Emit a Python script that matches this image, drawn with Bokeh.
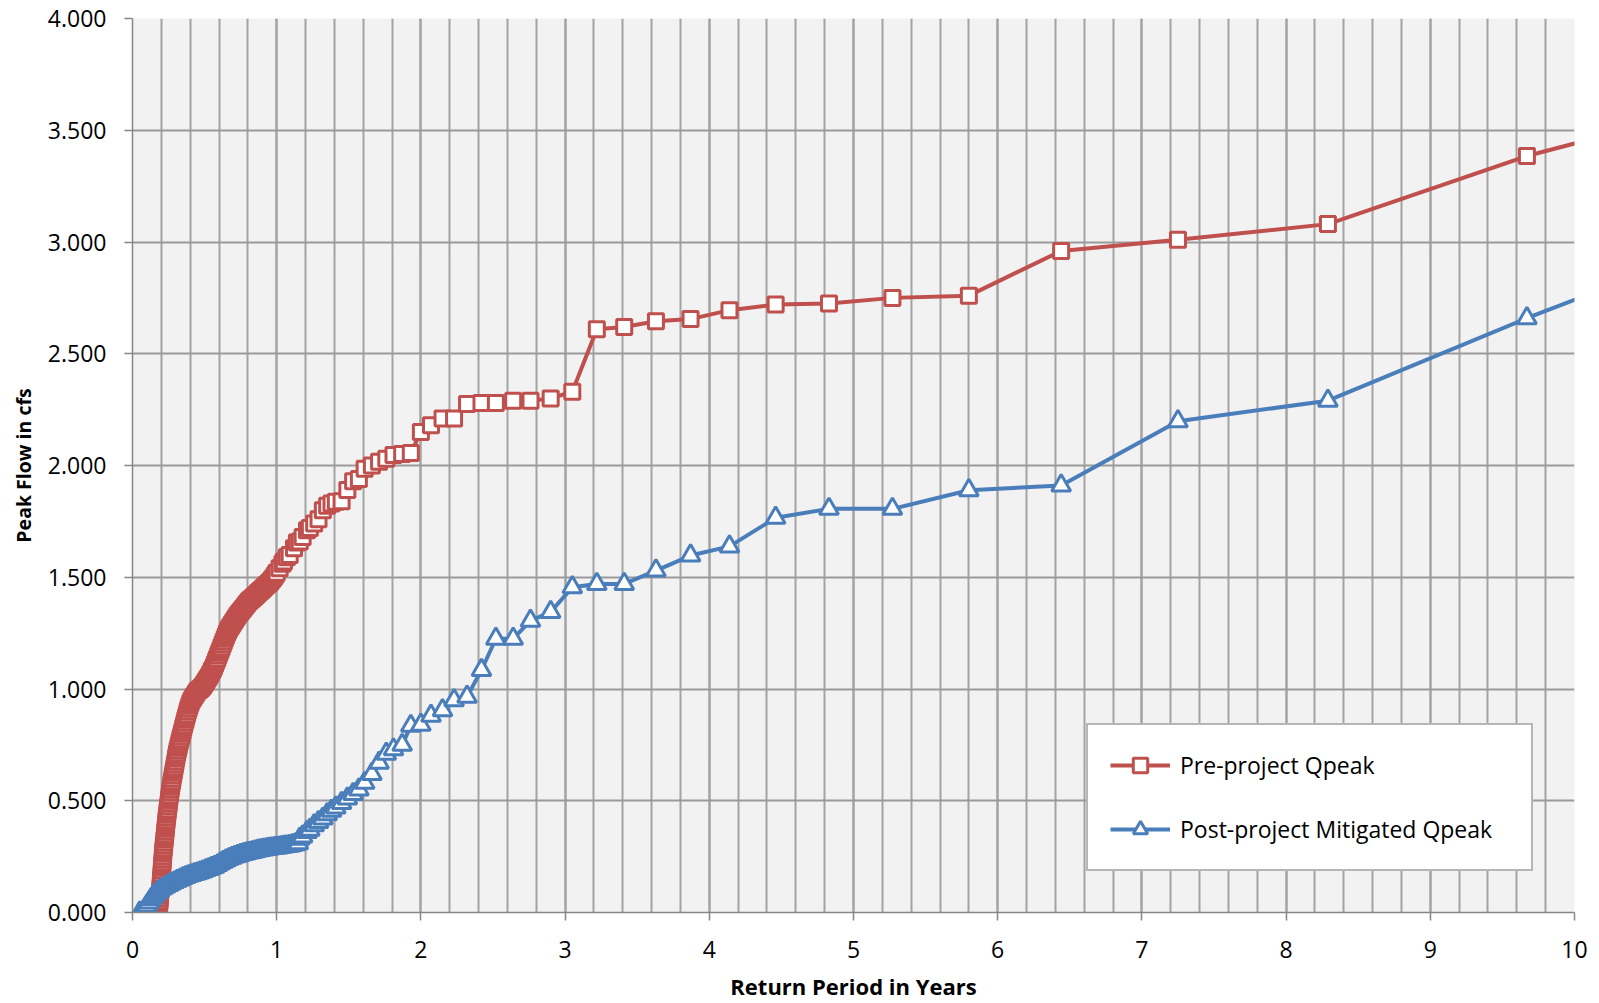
from bokeh.plotting import figure
from bokeh.models import Legend, LegendItem, FixedTicker, SingleIntervalTicker
from bokeh.embed import file_html
from bokeh.resources import INLINE

# ---- data ----
pre_x = [0.10, 0.12, 0.14, 0.16, 0.178,
         0.181, 0.183, 0.185, 0.187, 0.1885, 0.19, 0.1915, 0.193, 0.1945, 0.196,
         0.1975, 0.199, 0.2005, 0.202, 0.2035, 0.205, 0.2065, 0.208, 0.2095, 0.211,
         0.2125, 0.214, 0.216, 0.218, 0.220, 0.222, 0.224, 0.226, 0.228, 0.230,
         0.232, 0.234, 0.236, 0.238, 0.2405, 0.243, 0.2455, 0.248, 0.2505, 0.253,
         0.2555, 0.258, 0.261, 0.264, 0.267, 0.270, 0.2735, 0.277, 0.2805, 0.284,
         0.2875, 0.291, 0.2945, 0.298, 0.3015, 0.305, 0.309, 0.313, 0.3175, 0.322,
         0.327, 0.332, 0.337, 0.342, 0.347, 0.352, 0.357, 0.362, 0.367, 0.372,
         0.3775, 0.383, 0.389, 0.395, 0.402, 0.410, 0.420, 0.430, 0.440, 0.450,
         0.460, 0.470, 0.480, 0.490, 0.500, 0.510, 0.520, 0.530, 0.540, 0.550,
         0.5575, 0.565, 0.5725, 0.580, 0.5875, 0.595, 0.6025, 0.610, 0.6175, 0.625,
         0.6325, 0.640, 0.6475, 0.655, 0.6625, 0.670, 0.680, 0.690, 0.700, 0.710,
         0.720, 0.730, 0.7425, 0.755, 0.7675, 0.780, 0.7925, 0.805, 0.8175, 0.830,
         0.8425, 0.855, 0.8675, 0.880, 0.8925, 0.905, 0.9175, 0.930, 0.9425, 0.955,
         0.9675, 0.98, 0.99,
         1.00, 1.02, 1.04, 1.05, 1.07, 1.09, 1.12, 1.14, 1.16, 1.18,
         1.21, 1.23, 1.26, 1.29, 1.32, 1.35, 1.38, 1.41, 1.45, 1.49,
         1.53, 1.57, 1.61, 1.66, 1.71, 1.76, 1.81, 1.87, 1.93, 2.00,
         2.07, 2.15, 2.23, 2.32, 2.42, 2.52, 2.64, 2.76, 2.90, 3.05,
         3.22, 3.41, 3.63, 3.87, 4.14, 4.46, 4.83, 5.27, 5.80, 6.44,
         7.25, 8.29, 9.67, 11.6]
pre_y = [0.0, 0.0, 0.0, 0.0, 0.0,
         0.0125, 0.025, 0.0375, 0.05, 0.0625, 0.075, 0.0875, 0.10, 0.1125, 0.125,
         0.1375, 0.15, 0.1625, 0.175, 0.1875, 0.20, 0.2125, 0.225, 0.2375, 0.25,
         0.2625, 0.275, 0.2875, 0.30, 0.3125, 0.325, 0.3375, 0.35, 0.3625, 0.375,
         0.3875, 0.40, 0.4125, 0.425, 0.4375, 0.45, 0.4625, 0.475, 0.4875, 0.50,
         0.5125, 0.525, 0.5375, 0.55, 0.5625, 0.575, 0.5875, 0.60, 0.6125, 0.625,
         0.6375, 0.65, 0.6625, 0.675, 0.6875, 0.70, 0.7125, 0.725, 0.7375, 0.75,
         0.7625, 0.775, 0.7875, 0.80, 0.8125, 0.825, 0.8375, 0.85, 0.8625, 0.875,
         0.8875, 0.90, 0.9125, 0.925, 0.9375, 0.95, 0.96, 0.97, 0.98, 0.99,
         0.995, 1.0, 1.007, 1.015, 1.025, 1.035, 1.045, 1.055, 1.067, 1.08,
         1.09, 1.10, 1.112, 1.125, 1.137, 1.15, 1.162, 1.175, 1.187, 1.20,
         1.212, 1.225, 1.237, 1.25, 1.26, 1.27, 1.28, 1.29, 1.30, 1.31,
         1.32, 1.33, 1.34, 1.35, 1.36, 1.37, 1.38, 1.39, 1.398, 1.405,
         1.412, 1.42, 1.427, 1.435, 1.442, 1.45, 1.457, 1.465, 1.472, 1.48,
         1.49, 1.50, 1.51,
         1.52, 1.54, 1.56, 1.57, 1.59, 1.60, 1.63, 1.655, 1.66, 1.68,
         1.71, 1.72, 1.74, 1.76, 1.80, 1.82, 1.83, 1.838, 1.84, 1.89,
         1.93, 1.94, 1.985, 2.0, 2.017, 2.03, 2.047, 2.052, 2.056, 2.15,
         2.18, 2.21, 2.21, 2.275, 2.28, 2.28, 2.29, 2.29, 2.30, 2.33,
         2.61, 2.62, 2.645, 2.655, 2.695, 2.72, 2.725, 2.75, 2.76, 2.96,
         3.01, 3.08, 3.385, 3.71]

post_x = [0.05, 0.07, 0.085, 0.10, 0.115, 0.13, 0.145, 0.16, 0.175, 0.19,
          0.21, 0.23, 0.25, 0.27, 0.29, 0.31, 0.33, 0.35, 0.37, 0.39,
          0.41, 0.43, 0.45, 0.47, 0.49, 0.51, 0.53, 0.55, 0.57, 0.59,
          0.61, 0.63, 0.65, 0.67, 0.69, 0.71, 0.73, 0.75, 0.77, 0.79,
          0.81, 0.83, 0.85, 0.87, 0.89, 0.91, 0.93, 0.95, 0.97, 0.99,
          1.01, 1.03, 1.05, 1.07, 1.09, 1.11, 1.13, 1.15, 1.16, 1.18,
          1.21, 1.23, 1.26, 1.29, 1.32, 1.35, 1.38, 1.41, 1.45, 1.49,
          1.53, 1.57, 1.61, 1.66, 1.71, 1.76, 1.81, 1.87, 1.93, 2.00,
          2.07, 2.15, 2.23, 2.32, 2.42, 2.52, 2.64, 2.76, 2.90, 3.05,
          3.22, 3.41, 3.63, 3.87, 4.14, 4.46, 4.83, 5.27, 5.80, 6.44,
          7.25, 8.29, 9.67, 11.6]
post_y = [0.0, 0.0, 0.015, 0.03, 0.045, 0.06, 0.072, 0.083, 0.092, 0.1,
          0.108, 0.116, 0.123, 0.13, 0.136, 0.142, 0.148, 0.154, 0.159, 0.164,
          0.168, 0.172, 0.176, 0.18, 0.185, 0.19, 0.195, 0.2, 0.205, 0.212,
          0.22, 0.227, 0.234, 0.24, 0.245, 0.25, 0.254, 0.258, 0.262, 0.265,
          0.268, 0.271, 0.274, 0.277, 0.28, 0.282, 0.284, 0.286, 0.288, 0.29,
          0.291, 0.293, 0.295, 0.297, 0.299, 0.302, 0.305, 0.31, 0.33, 0.34,
          0.36, 0.37, 0.39, 0.405, 0.42, 0.44, 0.455, 0.47, 0.49, 0.51,
          0.53, 0.55, 0.58, 0.62, 0.67, 0.71, 0.73, 0.75, 0.835, 0.84,
          0.88, 0.905, 0.95, 0.965, 1.085, 1.225, 1.225, 1.305, 1.345, 1.455,
          1.47, 1.47, 1.53, 1.597, 1.638, 1.766, 1.806, 1.806, 1.889, 1.911,
          2.198, 2.29, 2.659, 3.14]

series_names = ["Pre-project Qpeak", "Post-project Mitigated Qpeak"]
x_ticks = [0, 1, 2, 3, 4, 5, 6, 7, 8, 9, 10]
x_tick_labels = ["0", "1", "2", "3", "4", "5", "6", "7", "8", "9", "10"]
y_ticks = [0.0, 0.5, 1.0, 1.5, 2.0, 2.5, 3.0, 3.5, 4.0]
y_tick_labels = ["0.000", "0.500", "1.000", "1.500", "2.000", "2.500",
                 "3.000", "3.500", "4.000"]

RED = "#c0504d"
BLUE = "#4a7ebb"
GRID = "#a3a3a3"
FONT = "Open Sans"

p = figure(width=1591, height=1003, x_range=(0, 10), y_range=(0, 4),
           output_backend="svg", toolbar_location=None,
           min_border_left=132, min_border_right=17,
           min_border_top=18, min_border_bottom=88)

p.background_fill_color = "#f2f2f2"
p.border_fill_color = "white"
p.outline_line_color = None

# axes
p.xaxis.ticker = SingleIntervalTicker(interval=1, num_minor_ticks=5)
p.xaxis.major_label_overrides = {t: l for t, l in zip(x_ticks, x_tick_labels)}
p.yaxis.ticker = FixedTicker(ticks=y_ticks)
p.yaxis.major_label_overrides = {t: l for t, l in zip(y_ticks, y_tick_labels)}

for ax in (p.xaxis[0], p.yaxis[0]):
    ax.axis_line_color = "#868686"
    ax.axis_line_width = 1.5
    ax.major_tick_line_color = "#868686"
    ax.major_tick_line_width = 1.5
    ax.major_tick_in = 0
    ax.major_tick_out = 8
    ax.minor_tick_line_color = None
    ax.major_label_text_font = FONT
    ax.major_label_text_font_size = "23px"
    ax.major_label_text_color = "black"
    ax.axis_label_text_font = FONT
    ax.axis_label_text_font_style = "bold"
    ax.axis_label_text_color = "black"

p.xaxis.axis_label = "Return Period in Years"
p.yaxis.axis_label = "Peak Flow in cfs"
p.xaxis.axis_label_text_font_size = "22px"
p.yaxis.axis_label_text_font_size = "19.5px"
p.xaxis.major_label_standoff = 20
p.xaxis.axis_label_standoff = 10
p.yaxis.major_label_standoff = 18
p.yaxis.axis_label_standoff = 8

# grids
p.xgrid.grid_line_color = GRID
p.xgrid.grid_line_width = 2
p.xgrid.minor_grid_line_color = GRID
p.xgrid.minor_grid_line_width = 2
p.ygrid.grid_line_color = "#9a9a9a"
p.ygrid.grid_line_width = 2

# series
r_line = p.line(pre_x, pre_y, line_color=RED, line_width=4)
r_pts = p.scatter(pre_x, pre_y, marker="square", size=15, line_color=RED,
                  line_width=3, fill_color="white")
b_line = p.line(post_x, post_y, line_color=BLUE, line_width=4)
b_pts = p.scatter(post_x, post_y, marker="triangle", size=19, line_color=BLUE,
                  line_width=3, fill_color="white")

legend = Legend(items=[LegendItem(label=series_names[0], renderers=[r_line, r_pts]),
                       LegendItem(label=series_names[1], renderers=[b_line, b_pts])],
                location=(954, 41))
legend.padding = 22
legend.spacing = 28
legend.glyph_width = 60
legend.glyph_height = 36
legend.label_height = 36
legend.label_width = 329
legend.label_standoff = 10
legend.label_text_font = FONT
legend.label_text_font_size = "23px"
legend.label_text_color = "black"
legend.border_line_color = "#6d6d6d"
legend.border_line_width = 2.5
legend.background_fill_color = "white"
legend.background_fill_alpha = 1.0
legend.margin = 0
p.add_layout(legend)

open("out.html", "w").write(file_html(p, INLINE))
